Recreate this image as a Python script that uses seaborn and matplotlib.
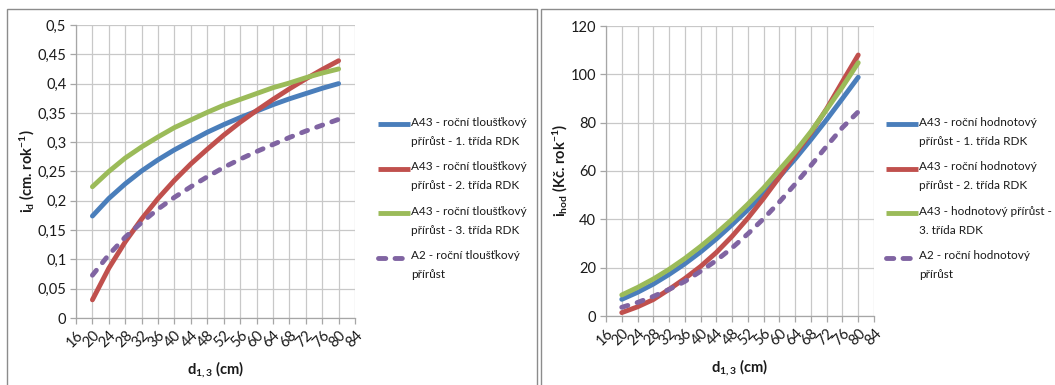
import numpy as np
import pandas as pd
import seaborn as sns
import matplotlib.pyplot as plt
from matplotlib.patches import Rectangle
from matplotlib.lines import Line2D
from matplotlib.ticker import MultipleLocator, FuncFormatter

# diameter classes d1,3 (cm)
diameter = [20, 24, 28, 32, 36, 40, 44, 48, 52, 56, 60, 64, 68, 72, 76, 80]

# annual diameter increment i_d (cm per year)
id_a43_rdk1 = [0.174, 0.204, 0.229, 0.251, 0.270, 0.287, 0.302, 0.317,
               0.330, 0.342, 0.353, 0.364, 0.374, 0.383, 0.392, 0.400]
id_a43_rdk2 = [0.031, 0.085, 0.130, 0.169, 0.204, 0.235, 0.263, 0.288,
               0.312, 0.334, 0.354, 0.373, 0.391, 0.408, 0.424, 0.439]
id_a43_rdk3 = [0.224, 0.250, 0.273, 0.292, 0.309, 0.325, 0.338, 0.351,
               0.363, 0.373, 0.383, 0.393, 0.401, 0.410, 0.418, 0.425]
id_a2 = [0.073, 0.108, 0.138, 0.163, 0.186, 0.206, 0.224, 0.241,
         0.257, 0.271, 0.284, 0.296, 0.308, 0.319, 0.329, 0.339]

# annual value increment i_hod (CZK per year)
ihod_a43_rdk1 = [6.9, 9.8, 13.2, 17.2, 21.6, 26.5, 31.9, 37.8,
                 44.0, 50.6, 57.6, 65.0, 73.0, 81.3, 90.0, 98.8]
ihod_a43_rdk2 = [1.4, 3.8, 6.8, 11.0, 15.5, 20.5, 26.3, 33.0,
                 40.5, 48.7, 57.5, 67.0, 75.8, 85.8, 97.0, 108.0]
ihod_a43_rdk3 = [8.7, 11.8, 15.3, 19.3, 23.8, 28.8, 34.2, 40.0,
                 46.3, 53.0, 60.5, 68.0, 76.3, 85.5, 94.8, 104.8]
ihod_a2 = [3.6, 5.6, 8.1, 11.0, 14.3, 18.5, 23.0, 28.2,
           34.0, 40.3, 47.2, 54.6, 62.3, 70.3, 78.0, 84.5]

labels_left = [
    "A43 - roční tloušťkový\npřírůst - 1. třída RDK",
    "A43 - roční tloušťkový\npřírůst - 2. třída RDK",
    "A43 - roční tloušťkový\npřírůst - 3. třída RDK",
    "A2 - roční tloušťkový\npřírůst",
]
labels_right = [
    "A43 - roční hodnotový\npřírůst - 1. třída RDK",
    "A43 - roční hodnotový\npřírůst - 2. třída RDK",
    "A43 - hodnotový přírůst -\n3. třída RDK",
    "A2 - roční hodnotový\npřírůst",
]

colors = ["#4A7EBB", "#C0504D", "#9BBB59", "#8064A2"]
dash_styles = [(), (), (), (1.3, 2.0)]
key_dashes = [(), (), (), (1.5, 1.9)]

sns.set_theme(style="white")
plt.rcParams["font.family"] = ["Lato", "DejaVu Sans"]
plt.rcParams["mathtext.fontset"] = "custom"
plt.rcParams["mathtext.rm"] = "Lato"
plt.rcParams["mathtext.bf"] = "Lato:bold"
plt.rcParams["mathtext.it"] = "Lato:italic"

W, H = 1055, 385
fig = plt.figure(figsize=(W / 100, H / 100), dpi=100)


def fx(px):
    return px / W


def fy(py):
    return 1 - py / H


def px_axes(x0, y0, x1, y1):
    return fig.add_axes([fx(x0), fy(y1), (x1 - x0) / W, (y1 - y0) / H])


# chart frames
for (x0, x1) in [(7, 537), (541, 1062)]:
    fig.add_artist(Rectangle((fx(x0), -0.05), (x1 - x0) / W, 1.05 - 9 / H,
                             transform=fig.transFigure, fill=False,
                             edgecolor="#8C8C8C", linewidth=1.0))

ax1 = px_axes(76, 25, 355, 318)
ax2 = px_axes(606, 26, 874, 316)


def side_legend(ax, labels, x0):
    # legend entries with the key aligned to the first text line
    lines = ax.get_lines()[:len(labels)]
    for i, (ln, lab) in enumerate(zip(lines, labels)):
        y = 124 + i * 44.6
        key = Line2D([fx(x0), fx(x0 + 32)], [fy(y), fy(y)],
                     transform=fig.transFigure, color=ln.get_color(),
                     linewidth=3.5, solid_capstyle="butt",
                     dash_capstyle="round")
        if key_dashes[i]:
            key.set_dashes(key_dashes[i])
        fig.add_artist(key)
        fig.text(fx(x0 + 33), fy(y - 7.5), lab, ha="left", va="top",
                 fontsize=8.5, color="#1A1A1A", linespacing=1.9)


def draw_panel(ax, series, labels, ymax, ystep, yfmt, ylabel, ylab_x, leg_x):
    frames = []
    for vals, lab in zip(series, labels):
        frames.append(pd.DataFrame({"d": diameter, "v": vals, "s": lab}))
    df = pd.concat(frames, ignore_index=True)
    sns.lineplot(data=df, x="d", y="v", hue="s", style="s", palette=colors,
                 dashes=dash_styles, linewidth=3.5, ax=ax, legend=False)
    for ln in ax.get_lines():
        ln.set_solid_capstyle("round")
        ln.set_dash_capstyle("round")
    ax.set_xlim(16, 84)
    ax.set_ylim(0, ymax)
    ax.xaxis.set_major_locator(MultipleLocator(4))
    ax.yaxis.set_major_locator(MultipleLocator(ystep))
    ax.yaxis.set_major_formatter(FuncFormatter(yfmt))
    ax.grid(True, color="#C8C8C8", linewidth=0.9)
    ax.set_axisbelow(True)
    for side in ["top", "right"]:
        ax.spines[side].set_visible(False)
    for side in ["left", "bottom"]:
        ax.spines[side].set_color("#A6A6A6")
        ax.spines[side].set_linewidth(0.9)
    ax.tick_params(axis="both", which="major", length=4, width=0.9,
                   color="#A6A6A6", labelsize=10.5, labelcolor="#1A1A1A",
                   pad=3, left=True, bottom=True)
    for t in ax.get_xticklabels():
        t.set_rotation(45)
        t.set_ha("right")
        t.set_rotation_mode("anchor")
    ax.set_xlabel(r"d$_{\mathbf{1,3}}$ (cm)", fontsize=10.5,
                  fontweight="bold", color="#1A1A1A", labelpad=7)
    ax.set_ylabel(ylabel, fontsize=10.5, fontweight="bold", color="#1A1A1A")
    ax.yaxis.set_label_coords(ylab_x, 0.5)
    side_legend(ax, labels, leg_x)


def fmt_dec(v, pos):
    s = f"{v:.2f}".rstrip("0").rstrip(".")
    return s.replace(".", ",")


def fmt_int(v, pos):
    return f"{v:.0f}"


draw_panel(ax1, [id_a43_rdk1, id_a43_rdk2, id_a43_rdk3, id_a2], labels_left,
           0.5, 0.05, fmt_dec, r"i$_{\mathbf{d}}$ (cm. rok$^{\mathbf{-1}}$)",
           -0.14, 378)
draw_panel(ax2, [ihod_a43_rdk1, ihod_a43_rdk2, ihod_a43_rdk3, ihod_a2],
           labels_right, 120, 20, fmt_int,
           r"i$_{\mathbf{hod}}$ (Kč. rok$^{\mathbf{-1}}$)", -0.134, 886)

fig.savefig("out.png", dpi=100)
